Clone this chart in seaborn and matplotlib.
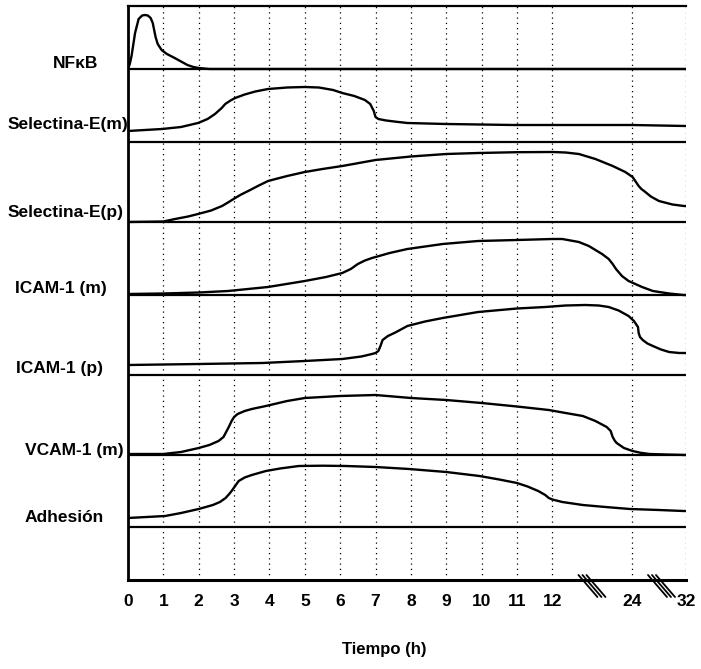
import numpy as np
import pandas as pd
import matplotlib
matplotlib.use("Agg")
import matplotlib.pyplot as plt
from matplotlib.lines import Line2D
from matplotlib.transforms import blended_transform_factory
import seaborn as sns

# ---- time axis (hours) ----
tick_hours = [0, 1, 2, 3, 4, 5, 6, 7, 8, 9, 10, 11, 12, 24, 32]
tick_labels = ["0", "1", "2", "3", "4", "5", "6", "7", "8", "9", "10", "11", "12", "24", "32"]

# ---- relative expression level of each marker over time ----
nfkb_t = [0, 0.05, 0.1, 0.2, 0.3, 0.4, 0.48, 0.56, 0.64, 0.70, 0.74, 0.78, 0.84, 0.95, 1.1, 1.32, 1.5, 1.68, 1.85, 2.0, 2.3, 32]
nfkb_v = [0, 5, 13, 36, 50, 53.5, 54, 53.5, 51, 46, 39, 32, 25, 19, 15, 11, 7.5, 4, 2, 1, 0, 0]

sele_m_t = [0, 0.96, 1.5, 1.98, 2.25, 2.46, 2.65, 2.75, 2.9, 3.03, 3.3, 3.6, 3.96, 4.5, 5.0, 5.4, 5.8, 6.06, 6.4, 6.7, 6.85, 6.95, 7.0, 7.08, 7.3, 7.6, 7.9, 9.0, 10.9, 12, 24, 32]
sele_m_v = [11, 13, 15, 19, 23, 28, 34, 38, 41.5, 44, 47.5, 50.5, 53, 54.5, 55, 54.5, 52, 49, 46, 42, 38, 31, 25, 23, 21.5, 20.2, 19, 18, 17, 17, 17, 16]

sele_p_t = [0, 1.0, 1.33, 1.7, 1.98, 2.35, 2.66, 2.85, 3.03, 3.2, 3.4, 3.7, 3.96, 4.5, 5.0, 5.5, 6.06, 7.0, 8.0, 9.0, 9.9, 11.0, 12, 14.0, 16.0, 18.5, 21.1, 23.0, 24.1, 24.6, 25.0, 25.4, 25.8, 26.8, 28.0, 30.0, 31.7, 32]
sele_p_v = [0, 0.5, 3, 5.5, 8, 11.5, 16, 20, 24, 27.5, 31, 36.5, 41, 46, 50, 53, 56, 62, 65.5, 68, 69, 69.8, 70, 69.5, 68, 63, 56, 50, 45, 40, 36, 33, 31, 25.5, 21, 17.5, 16, 16]

icam_m_t = [0, 1.0, 2.0, 2.83, 3.96, 5.0, 5.6, 6.06, 6.3, 6.5, 6.7, 6.9, 7.4, 7.9, 8.4, 8.9, 9.9, 11.0, 12.0, 13.5, 16.0, 17.5, 18.5, 19.5, 20.5, 21.1, 21.6, 22.5, 23.5, 25.5, 27.1, 29.5, 31.6, 32]
icam_m_v = [1, 1.5, 2.5, 4, 8, 14, 18, 22, 26, 31, 34.5, 37, 42, 46, 48.5, 51, 54, 55, 56, 56, 53, 49, 45, 41, 36, 31, 26, 19, 14, 8, 4, 1.5, 0, 0]

icam_p_t = [0, 2.0, 3.8, 5.0, 6.06, 6.6, 6.9, 7.0, 7.08, 7.14, 7.2, 7.35, 7.56, 7.9, 8.4, 8.9, 9.9, 11.0, 11.8, 14.0, 17.0, 19.0, 20.5, 22.0, 23.5, 24.3, 24.9, 25.0, 25.2, 25.6, 26.3, 27.1, 28.3, 29.5, 31.0, 32]
icam_p_v = [10, 11, 12, 14, 16, 18.5, 21, 22, 24, 29, 35, 39, 42.5, 49, 53.5, 57, 63, 66.5, 68, 69.5, 70, 69.5, 68, 64.5, 59, 54, 48, 42, 38, 35, 31.5, 29, 25.5, 23, 22, 22]

vcam_m_t = [0, 1.0, 1.5, 2.0, 2.3, 2.56, 2.7, 2.76, 2.85, 2.93, 3.0, 3.1, 3.3, 3.5, 3.9, 4.5, 5.0, 6.0, 7.0, 8.0, 9.0, 10.0, 11.0, 11.9, 14.0, 16.6, 18.5, 20.2, 20.8, 21.1, 21.4, 21.7, 22.8, 24.1, 25.3, 26.6, 29.0, 32]
vcam_m_v = [1, 1, 3, 7, 10, 14, 18, 22, 28, 34, 38, 41, 44, 46, 49, 54, 57, 59, 60, 57, 55, 52, 48.5, 45, 42, 39, 34, 28, 24, 18, 14.5, 12, 7, 4, 2.2, 1, 0.5, 0]

adh_t = [0, 1.05, 1.5, 2.0, 2.4, 2.6, 2.76, 2.85, 2.93, 3.03, 3.13, 3.3, 3.5, 3.9, 4.3, 4.83, 5.5, 6.16, 7.0, 7.95, 9.0, 9.94, 10.5, 11.0, 11.3, 11.6, 11.8, 11.9, 12.0, 13.5, 16.6, 20.0, 23.7, 28.0, 31.6, 32]
adh_v = [9, 11, 14, 18, 22, 25, 29, 32.5, 36, 41, 46, 49.5, 52, 56, 58.5, 61, 61.3, 61, 60, 58, 55, 51, 47.5, 44, 40.5, 36, 32, 29, 27.5, 25, 22, 20, 18, 17, 16, 16]

series_names = ["NF\u03baB", "Selectina-E(m)", "Selectina-E(p)", "ICAM-1 (m)",
                "ICAM-1 (p)", "VCAM-1 (m)", "Adhesi\u00f3n"]
series_t = [nfkb_t, sele_m_t, sele_p_t, icam_m_t, icam_p_t, vcam_m_t, adh_t]
series_v = [nfkb_v, sele_m_v, sele_p_v, icam_m_v, icam_p_v, vcam_m_v, adh_v]

# ---- layout: baseline height of each strip and label placement ----
strip_base = [511, 438, 358, 285, 205, 125, 53]
label_x_px = [53, 8, 8, 15, 16, 25, 25]
label_y = [517, 455, 367, 292, 212, 130, 62]
y_top = 574

# compressed time scale: 12->24 h and 24->32 h squeezed after the break
P24, P32 = 14.25, 15.78


def fwd(h):
    h = np.asarray(h, dtype=float)
    return np.where(h <= 12, h,
                    np.where(h <= 24, 12 + (h - 12) * (P24 - 12) / 12.0,
                             P24 + (h - 24) * (P32 - P24) / 8.0))


def inv(p):
    p = np.asarray(p, dtype=float)
    return np.where(p <= 12, p,
                    np.where(p <= P24, 12 + (p - 12) * 12.0 / (P24 - 12),
                             24 + (p - P24) * 8.0 / (P32 - P24)))


frames = []
for name, t, v, base in zip(series_names, series_t, series_v, strip_base):
    frames.append(pd.DataFrame({"serie": name, "t": t,
                                "y": np.asarray(v, dtype=float) + base}))
df = pd.concat(frames, ignore_index=True)

sns.set_style("white")
plt.rcParams["font.family"] = ["Liberation Sans", "DejaVu Sans"]
plt.rcParams["text.color"] = "black"
plt.rcParams["axes.labelcolor"] = "black"
plt.rcParams["xtick.color"] = "black"

W, H, DPI = 701, 669, 100
fig = plt.figure(figsize=(W / DPI, H / DPI), dpi=DPI)
ax = fig.add_axes([128 / W, (H - 580) / H, (686 - 128) / W, 574 / H])

ax.set_xscale("function", functions=(fwd, inv))
ax.set_xlim(0, 32)
ax.set_ylim(0, y_top)

# dotted hour grid
for h in tick_hours[1:]:
    ax.axvline(h, color="black", lw=0.9, linestyle=(0, (1, 3.2)), zorder=1)

# strip baselines
for base in strip_base:
    ax.axhline(base, color="black", lw=1.6, zorder=2)

sns.lineplot(data=df, x="t", y="y", hue="serie", units="serie", estimator=None,
             palette={n: "black" for n in series_names}, legend=False,
             lw=1.7, ax=ax, zorder=3, sort=True,
             solid_joinstyle="round", solid_capstyle="round")

label_tf = blended_transform_factory(fig.transFigure, ax.transData)
for name, lx, ly in zip(series_names, label_x_px, label_y):
    ax.text(lx / W, ly, name, transform=label_tf, color="black",
            ha="left", va="center", fontsize=12.5, fontweight="bold")

ax.set_xticks(tick_hours)
ax.set_xticklabels(tick_labels, fontsize=12.5, fontweight="bold", color="black")
ax.set_yticks([])
ax.tick_params(axis="x", length=0, pad=10, labelcolor="black")
ax.set_xlabel("Tiempo (h)", fontsize=12, fontweight="bold", color="black")
ax.xaxis.set_label_coords((384 - 128) / (686 - 128), -0.108)
ax.set_ylabel("")

for side in ["left", "bottom", "top"]:
    ax.spines[side].set_visible(True)
    ax.spines[side].set_color("black")
ax.spines["right"].set_visible(False)
ax.spines["left"].set_linewidth(2.0)
ax.spines["bottom"].set_linewidth(2.2)
ax.spines["top"].set_linewidth(1.6)

# axis break marks (triple slashes) between 12-24 h and 24-32 h
fig.canvas.draw()
for hb in [17.9, 28.3]:
    xd, yd = ax.transData.transform((hb, 0))
    for k in (-1, 0, 1):
        x0 = xd + k * 4 - 9
        x1 = xd + k * 4 + 10
        y0 = yd + 5
        y1 = yd - 17
        fig.add_artist(Line2D([x0 / W, x1 / W], [y0 / H, y1 / H],
                              transform=fig.transFigure, color="black", lw=1.3))

fig.savefig("out.png", dpi=DPI)
